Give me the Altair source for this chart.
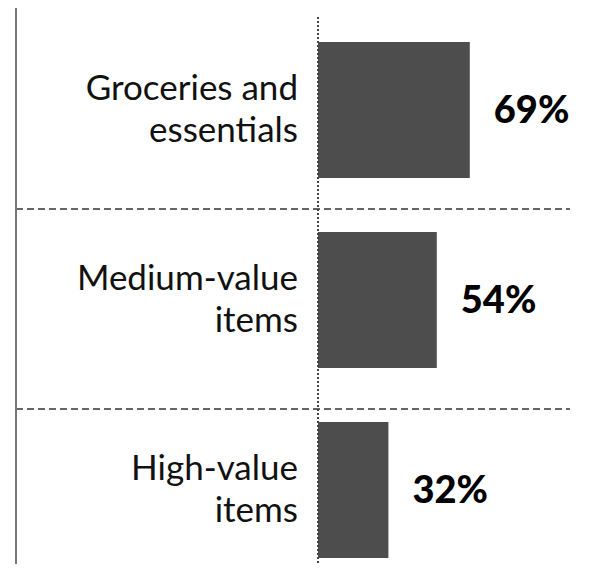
import altair as alt
import pandas as pd

categories = ["Groceries and|essentials", "Medium-value|items", "High-value|items"]
values = [69, 54, 32]
value_labels = ["69%", "54%", "32%"]

df = pd.DataFrame({"category": categories, "value": values, "vlabel": value_labels})

yenc = alt.Y(
    "category:N",
    sort=categories,
    scale=alt.Scale(range=[25, 541], paddingInner=0.284, paddingOuter=0),
    axis=None,
)
xenc = alt.X("value:Q", scale=alt.Scale(domain=[0, 100], range=[0, 220]), axis=None)

base = alt.Chart(df)

bars = base.mark_bar(color="#4d4d4d").encode(x=xenc, y=yenc)

vals = base.mark_text(
    align="left", baseline="middle", dx=24, dy=2, font="Lato", fontWeight=900,
    fontSize=38, color="#000000"
).encode(x=xenc, y=yenc, text="vlabel:N")

cats = base.mark_text(
    align="right", baseline="middle", lineBreak="|", lineHeight=42, dy=-21,
    font="Lato", fontSize=35, color="#111111"
).encode(y=yenc, x=alt.value(-20), text="category:N")

left_line = base.mark_rule(color="#777777", strokeWidth=2).encode(
    x=alt.value(-302), y=alt.value(-9), y2=alt.value(547)
)
dotted = base.mark_rule(color="#444444", strokeWidth=2, strokeDash=[2, 2]).encode(
    x=alt.value(0), y=alt.value(0), y2=alt.value(547)
)
sep1 = base.mark_rule(color="#666666", strokeWidth=2, strokeDash=[7, 4]).encode(
    x=alt.value(-302), x2=alt.value(252), y=alt.value(192)
)
sep2 = base.mark_rule(color="#666666", strokeWidth=2, strokeDash=[7, 4]).encode(
    x=alt.value(-302), x2=alt.value(252), y=alt.value(392)
)

chart = alt.layer(bars, sep1, sep2, left_line, dotted, vals, cats).properties(
    width=262,
    height=547,
    padding={"left": 310, "top": 9, "right": 0, "bottom": 0},
    autosize=alt.AutoSizeParams(type="none"),
).configure_view(stroke=None)

chart.save("out.html", embed_options={"renderer": "svg", "actions": False})
